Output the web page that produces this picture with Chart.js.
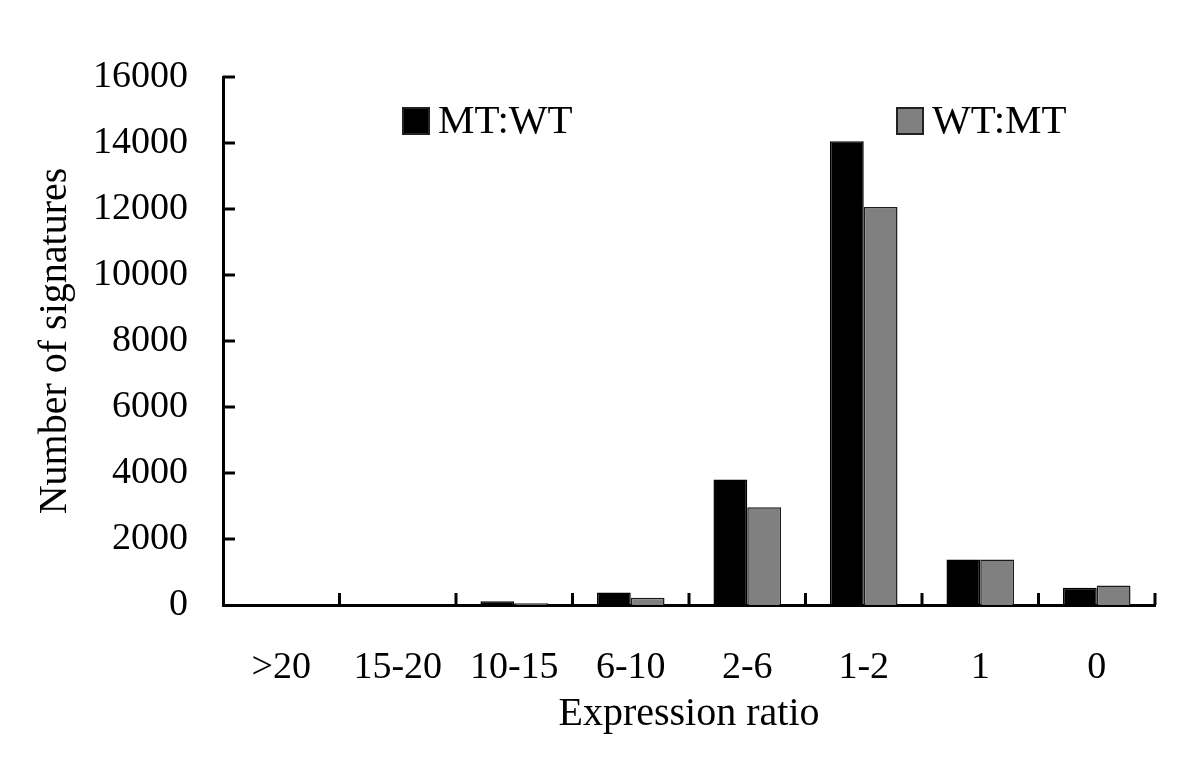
<!DOCTYPE html>
<html>
<head>
<meta charset="utf-8">
<script src="https://cdn.jsdelivr.net/npm/chart.js@4/dist/chart.umd.min.js"></script>
<style>
  html, body { margin: 0; padding: 0; background: #fff; }
  #wrap { width: 1200px; height: 764px; }
</style>
</head>
<body>
<div id="wrap"><canvas id="c" width="1200" height="764"></canvas></div>
<script>
const categories = ['>20', '15-20', '10-15', '6-10', '2-6', '1-2', '1', '0'];
const mtWtValues = [0, 0, 110, 380, 3800, 14050, 1380, 520];
const wtMtValues = [0, 0, 50, 220, 2960, 12060, 1380, 590];
const seriesNames = ['MT:WT', 'WT:MT'];
const yMin = 0, yMax = 16000, yStep = 2000;

const FONT = '"Liberation Serif", "Times New Roman", serif';

// Inward tick marks on both axes (drawn from the library's scales)
const innerTicks = {
  id: 'innerTicks',
  afterDraw(chart) {
    const ctx = chart.ctx;
    const x = chart.scales.x, y = chart.scales.y;
    const area = chart.chartArea;
    ctx.save();
    ctx.strokeStyle = '#000';
    ctx.lineWidth = 3;
    ctx.lineCap = 'butt';
    // y ticks pointing right (skip the one at the baseline)
    y.ticks.forEach((t, i) => {
      if (t.value === yMin) return;
      const py = y.getPixelForTick(i);
      ctx.beginPath();
      ctx.moveTo(area.left, py);
      ctx.lineTo(area.left + 12, py);
      ctx.stroke();
    });
    // x ticks at category boundaries, pointing up
    const n = x.ticks.length;
    const half = (n > 1 ? (x.getPixelForTick(1) - x.getPixelForTick(0)) : (area.right - area.left)) / 2;
    for (let i = 0; i < n; i++) {
      const px = x.getPixelForTick(i) + half;
      ctx.beginPath();
      ctx.moveTo(px, area.bottom);
      ctx.lineTo(px, area.bottom - 12);
      ctx.stroke();
    }
    ctx.restore();
  }
};

// Legend items placed inside the plot, like the reference
const placedLegend = {
  id: 'placedLegend',
  afterDraw(chart, args, opts) {
    const ctx = chart.ctx;
    const area = chart.chartArea;
    ctx.save();
    ctx.font = opts.fontSize + 'px ' + FONT;
    ctx.textBaseline = 'middle';
    ctx.textAlign = 'left';
    chart.data.datasets.forEach((ds, i) => {
      const bx = area.left + opts.offsets[i];
      const cy = opts.y;
      const s = opts.box;
      ctx.fillStyle = ds.backgroundColor;
      ctx.fillRect(bx, cy - s / 2, s, s);
      ctx.strokeStyle = '#222';
      ctx.lineWidth = 2;
      ctx.strokeRect(bx, cy - s / 2, s, s);
      ctx.fillStyle = '#000';
      ctx.fillText(ds.label, bx + s + 9, cy + 1);
    });
    ctx.restore();
  }
};

new Chart(document.getElementById('c'), {
  type: 'bar',
  data: {
    labels: categories,
    datasets: [
      {
        label: seriesNames[0],
        data: mtWtValues,
        backgroundColor: '#000000',
        borderColor: '#000000',
        borderWidth: 1.5,
        categoryPercentage: 0.58,
        barPercentage: 1.0
      },
      {
        label: seriesNames[1],
        data: wtMtValues,
        backgroundColor: '#808080',
        borderColor: '#1a1a1a',
        borderWidth: 1.5,
        categoryPercentage: 0.58,
        barPercentage: 1.0
      }
    ]
  },
  options: {
    responsive: false,
    animation: false,
    devicePixelRatio: 1,
    layout: { padding: { top: 77, right: 45, left: 0, bottom: 0 } },
    plugins: {
      legend: { display: false },
      tooltip: { enabled: false },
      placedLegend: { offsets: [180, 674], y: 121, box: 26, fontSize: 41 }
    },
    scales: {
      x: {
        grid: { display: false, drawTicks: false },
        border: { display: true, color: '#000', width: 3 },
        ticks: {
          color: '#000',
          font: { family: FONT, size: 38 },
          padding: 40,
          maxRotation: 0,
          autoSkip: false
        },
        title: {
          display: true,
          text: 'Expression ratio',
          color: '#000',
          font: { family: FONT, size: 40 },
          padding: { top: 0, bottom: 26 }
        },
        afterFit(scale) { scale.height = 159; }
      },
      y: {
        min: yMin,
        max: yMax,
        grid: { display: false, drawTicks: false },
        border: { display: true, color: '#000', width: 3 },
        ticks: {
          stepSize: yStep,
          color: '#000',
          font: { family: FONT, size: 38 },
          padding: 35,
          callback: (v) => String(v)
        },
        title: {
          display: true,
          text: 'Number of signatures',
          color: '#000',
          font: { family: FONT, size: 40 },
          padding: { top: 31, bottom: 0 }
        },
        afterFit(scale) { scale.width = 223; }
      }
    }
  },
  plugins: [innerTicks, placedLegend]
});
</script>
</body>
</html>
